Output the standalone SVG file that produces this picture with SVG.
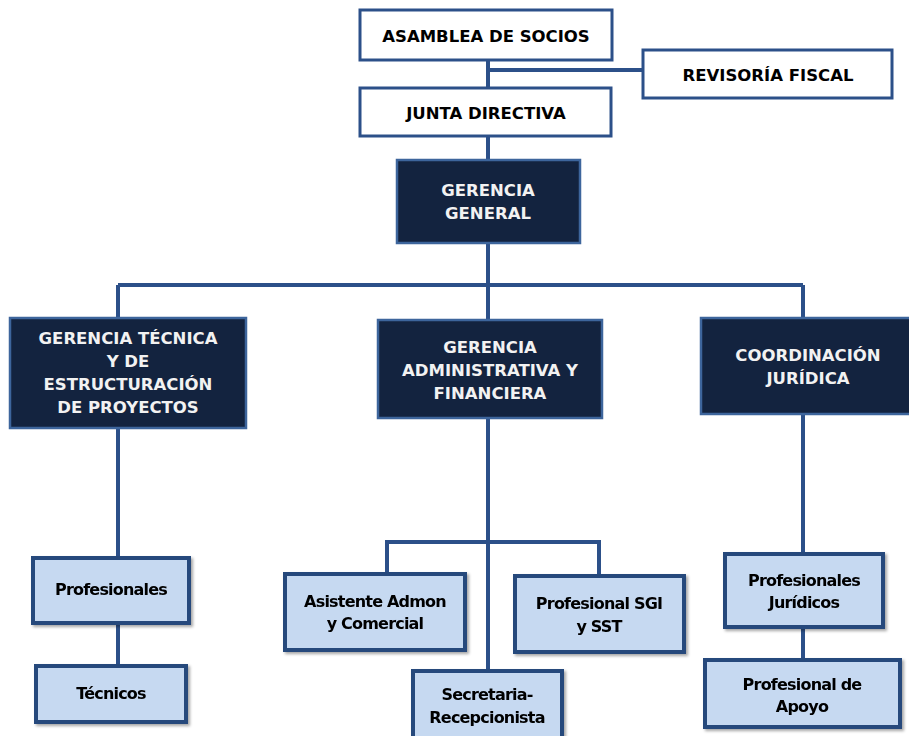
<svg xmlns="http://www.w3.org/2000/svg" width="909" height="736" viewBox="0 0 909 736">
<style>
.w{fill:#ffffff;stroke:#2c5089;stroke-width:3}
.d{fill:#13233f;stroke:#3d659c;stroke-width:2.5}
.l{fill:#c6d9f1;stroke:#264a7c;stroke-width:4}
.c{fill:none;stroke:#2c5089;stroke-width:4}
text{font-family:"DejaVu Sans",Verdana,sans-serif;font-weight:bold;text-anchor:middle}
.tw{fill:#000;font-size:16.5px}
.td{fill:#f2f2f2;font-size:16.5px}
.tl{fill:#000;font-size:16px;letter-spacing:-0.8px}
</style>
<defs>
<filter id="sh" x="-10%" y="-10%" width="130%" height="130%"><feDropShadow dx="2" dy="2" stdDeviation="1.5" flood-color="#000" flood-opacity="0.35"/></filter>
</defs>
<rect width="909" height="736" fill="#ffffff"/>
<g id="connectors">
<path class="c" d="M488 60V88M488 70H643M488 136V160M488 243V285M118 285H803M118 285V318M488 285V320M803 285V318"/>
<path class="c" d="M118 428V558M118 623V666M488 418V672M387 574V542H599V576M803 414V554M803 627V661"/>
</g>
<g id="asamblea"><rect class="w" x="360" y="10" width="252" height="50"/><text class="tw" x="486" y="42">ASAMBLEA DE SOCIOS</text></g>
<g id="revisoria"><rect class="w" x="643" y="50" width="249" height="48"/><text class="tw" x="768" y="81">REVISORÍA FISCAL</text></g>
<g id="junta"><rect class="w" x="360" y="88" width="251" height="48"/><text class="tw" x="486" y="119">JUNTA DIRECTIVA</text></g>
<g id="gerencia-general"><rect class="d" x="397" y="160" width="183" height="83"/><text class="td" x="488" y="196">GERENCIA</text><text class="td" x="488" y="219">GENERAL</text></g>
<g id="gerencia-tecnica"><rect class="d" x="10" y="318" width="236" height="110"/><text class="td" x="128" y="344">GERENCIA TÉCNICA</text><text class="td" x="128" y="367">Y DE</text><text class="td" x="128" y="390">ESTRUCTURACIÓN</text><text class="td" x="128" y="413">DE PROYECTOS</text></g>
<g id="gerencia-admin"><rect class="d" x="378" y="320" width="224" height="98"/><text class="td" x="490" y="353">GERENCIA</text><text class="td" x="490" y="376">ADMINISTRATIVA Y</text><text class="td" x="490" y="399">FINANCIERA</text></g>
<g id="coordinacion"><rect class="d" x="701" y="318" width="212" height="96"/><text class="td" x="808" y="361">COORDINACIÓN</text><text class="td" x="808" y="384">JURÍDICA</text></g>
<g id="profesionales" filter="url(#sh)"><rect class="l" x="33" y="558" width="156" height="65"/><text class="tl" x="111" y="595">Profesionales</text></g>
<g id="tecnicos" filter="url(#sh)"><rect class="l" x="36" y="666" width="150" height="56"/><text class="tl" x="111" y="699">Técnicos</text></g>
<g id="asistente" filter="url(#sh)"><rect class="l" x="285" y="574" width="180" height="76"/><text class="tl" x="375" y="607">Asistente Admon</text><text class="tl" x="375" y="629">y Comercial</text></g>
<g id="profesional-sgi" filter="url(#sh)"><rect class="l" x="515" y="576" width="169" height="76"/><text class="tl" x="599" y="609">Profesional SGI</text><text class="tl" x="599" y="632">y SST</text></g>
<g id="secretaria" filter="url(#sh)"><rect class="l" x="413" y="671" width="149" height="70"/><text class="tl" x="487" y="700">Secretaria-</text><text class="tl" x="487" y="723">Recepcionista</text></g>
<g id="profesionales-juridicos" filter="url(#sh)"><rect class="l" x="725" y="554" width="158" height="73"/><text class="tl" x="804" y="586">Profesionales</text><text class="tl" x="804" y="608">Jurídicos</text></g>
<g id="profesional-apoyo" filter="url(#sh)"><rect class="l" x="705" y="660" width="195" height="67"/><text class="tl" x="802" y="690">Profesional de</text><text class="tl" x="802" y="712">Apoyo</text></g>
</svg>
